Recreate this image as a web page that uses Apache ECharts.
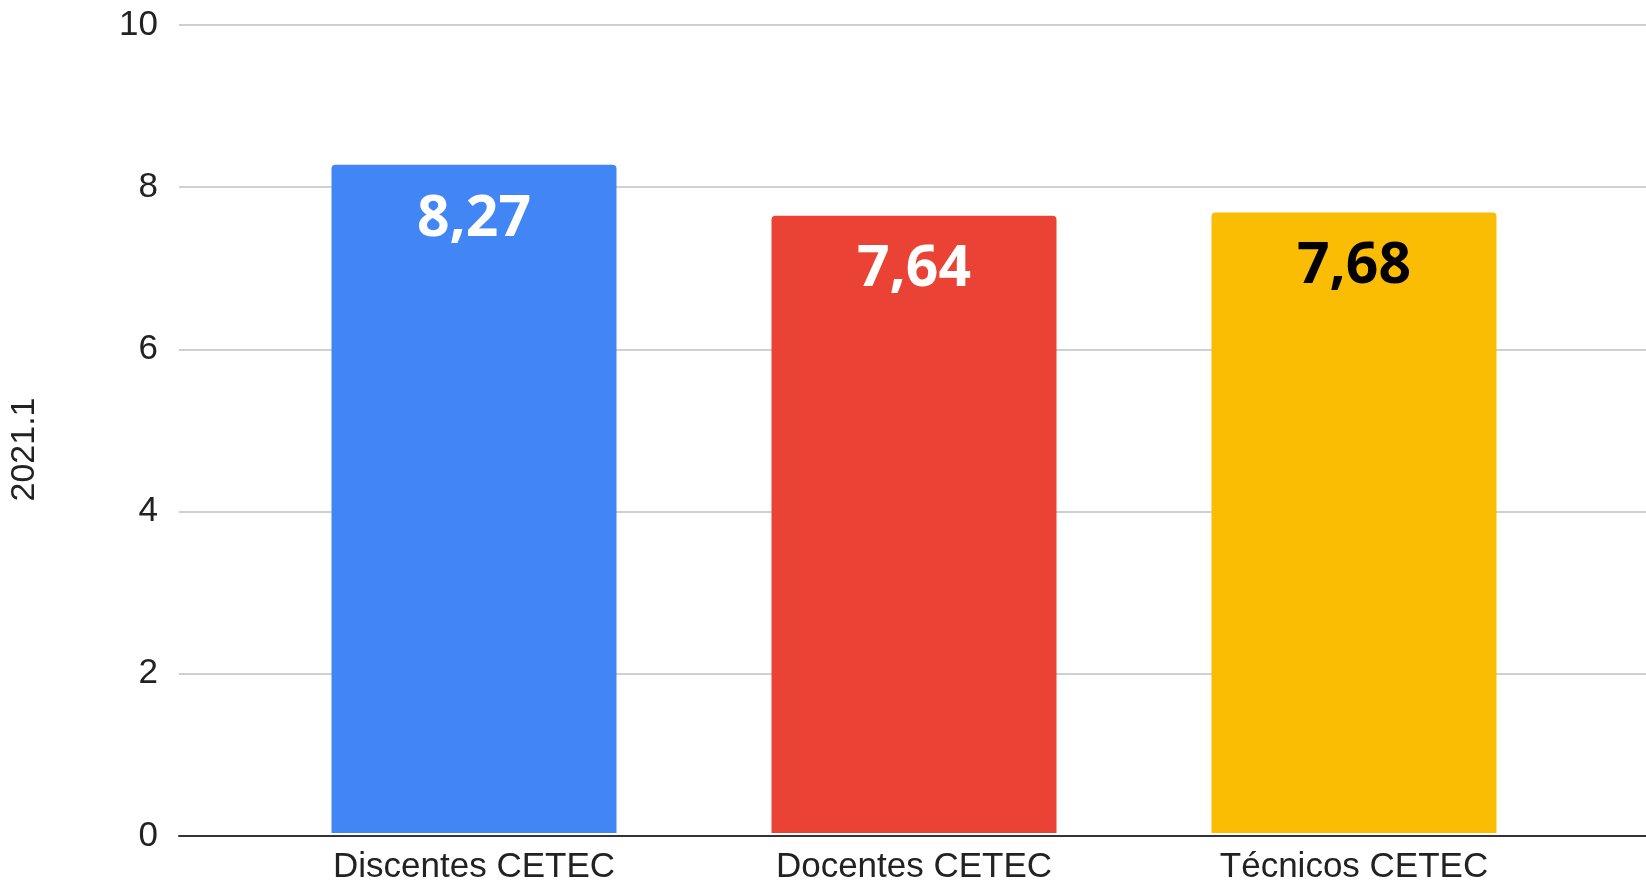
<!DOCTYPE html>
<html><head><meta charset="utf-8">
<script src="https://cdn.jsdelivr.net/npm/echarts@6/dist/echarts.min.js"></script>
<style>html,body{margin:0;padding:0;background:#fff}#c{width:1646px;height:885px}</style>
</head><body><div id="c"></div>
<script>
const categories = ['Discentes CETEC', 'Docentes CETEC', 'Técnicos CETEC'];
const values = [8.27, 7.64, 7.68];
const barColors = ['#4285F4', '#EA4335', '#FBBC04'];
const labelColors = ['#ffffff', '#ffffff', '#000000'];
const yTicks = [0, 2, 4, 6, 8, 10];
const axisName = '2021.1';

const chart = echarts.init(document.getElementById('c'));
const fmt = v => v.toFixed(2).replace('.', ',');
chart.setOption({
  animation: false,
  grid: [
    {left: 175, right: 0, top: 25, bottom: 49},
    {left: 254, right: 72, top: 25, bottom: 49}
  ],
  xAxis: [
    {gridIndex: 0, type: 'value', min: 0, max: 1, axisLine: {show: true, onZero: false, lineStyle: {color: '#333', width: 2}},
     axisTick: {show: false}, axisLabel: {show: false}, splitLine: {show: false}},
    {gridIndex: 1, type: 'category', data: categories, axisLine: {show: false}, axisTick: {show: false},
     axisLabel: {margin: 17, fontFamily: 'Liberation Sans, Arial', fontSize: 35, color: '#222'}}
  ],
  yAxis: [
    {gridIndex: 0, type: 'value', min: yTicks[0], max: yTicks[yTicks.length-1], interval: 2,
     axisLine: {show: false}, axisTick: {show: false},
     axisLabel: {margin: 21, fontFamily: 'Liberation Sans, Arial', fontSize: 35, color: '#222'},
     splitLine: {lineStyle: {color: '#d0d0d0', width: 2}},
     name: axisName, nameLocation: 'middle', nameGap: 137, nameRotate: 90,
     nameTextStyle: {fontFamily: 'Liberation Sans, Arial', fontSize: 34, color: '#222', padding: [0, 38, 0, 0]}},
    {gridIndex: 1, type: 'value', min: yTicks[0], max: yTicks[yTicks.length-1], show: false, splitLine: {show: false}}
  ],
  series: [{
    type: 'bar', xAxisIndex: 1, yAxisIndex: 1, barWidth: 285, z: 3,
    data: values.map((v, i) => ({value: v, itemStyle: {color: barColors[i], borderRadius: [4, 4, 0, 0]},
      label: {color: labelColors[i]}})),
    label: {show: true, position: 'insideTop', distance: 26, formatter: p => fmt(p.value),
      fontFamily: 'Open Sans', fontWeight: 'bold', fontSize: 57}
  }]
});
</script></body></html>
